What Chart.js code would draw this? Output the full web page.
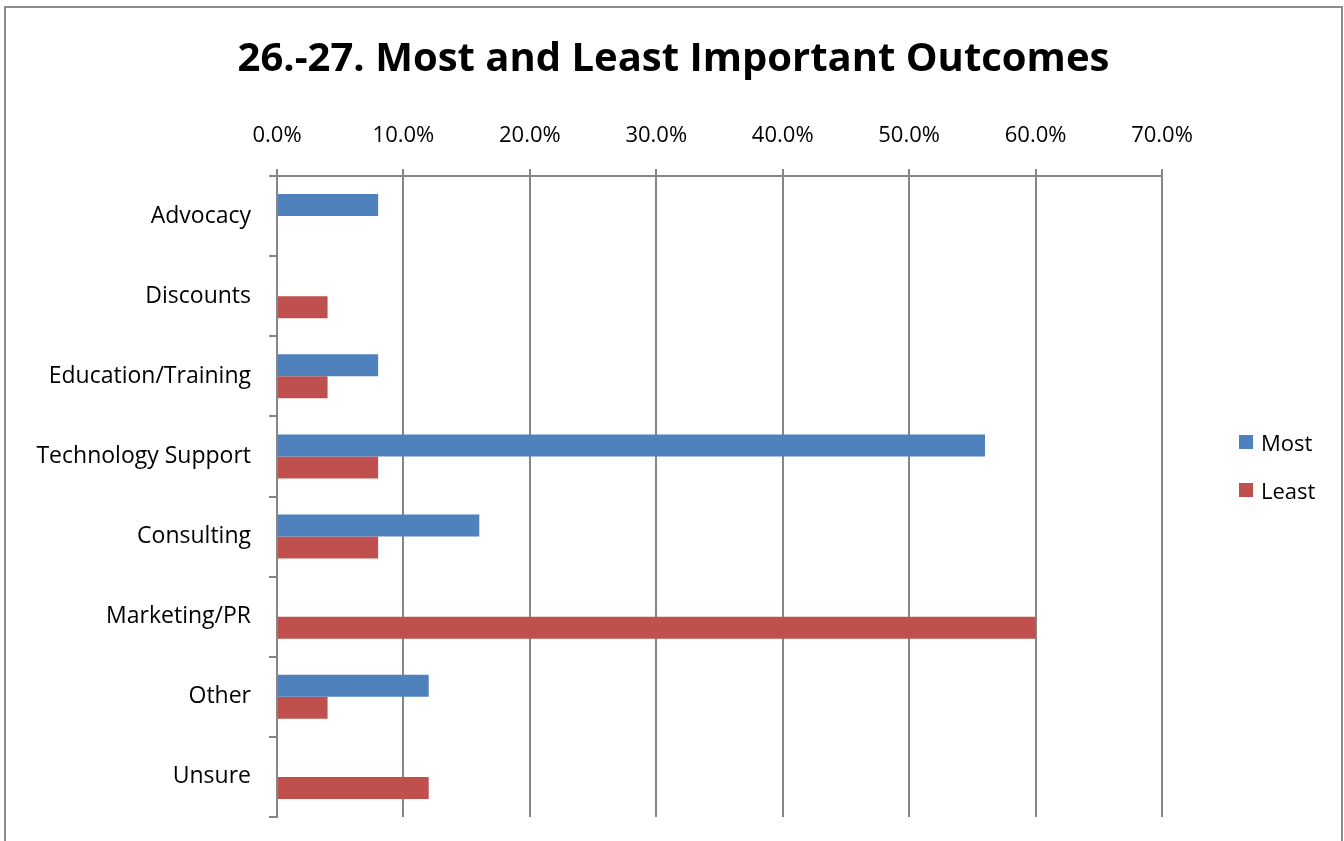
<!DOCTYPE html>
<html>
<head>
<meta charset="utf-8">
<script src="https://cdn.jsdelivr.net/npm/chart.js@4"></script>
<style>
    body { margin: 0; background: #fff; overflow: hidden; }
    #frame {
        position: absolute; left: 4px; top: 6px;
        width: 1335px; height: 860px;
        border: 2px solid #8c8c8c; background: #fff;
    }
    #chartBox { position: absolute; left: 0; top: 0; width: 1335px; height: 860px; }
    #legend { position: absolute; left: 1239px; top: 428px; font: 22px "Open Sans", "Noto Sans", sans-serif; color: #000; }
    .legend-item { display: flex; align-items: center; height: 28px; margin-bottom: 20px; }
    .legend-box { width: 14px; height: 14px; margin-right: 8px; }
</style>
</head>
<body>
<div id="frame"><div id="chartBox"><canvas id="outcomesChart"></canvas></div></div>
<div id="legend"></div>
<script>
const categories = ['Advocacy', 'Discounts', 'Education/Training', 'Technology Support',
    'Consulting', 'Marketing/PR', 'Other', 'Unsure'];
const mostValues = [8, 0, 8, 56, 16, 0, 12, 0];
const leastValues = [0, 4, 4, 8, 8, 60, 4, 12];
const xTicks = [0, 10, 20, 30, 40, 50, 60, 70];

const gray = '#868686';
const fontFamily = '"Open Sans", "Noto Sans", sans-serif';

function buildLegend(chart) {
    const box = document.getElementById('legend');
    box.innerHTML = '';
    chart.data.datasets.forEach(function (ds) {
        const item = document.createElement('div');
        item.className = 'legend-item';
        const sw = document.createElement('span');
        sw.className = 'legend-box';
        sw.style.background = ds.backgroundColor;
        const txt = document.createElement('span');
        txt.textContent = ds.label;
        item.appendChild(sw);
        item.appendChild(txt);
        box.appendChild(item);
    });
}

document.addEventListener("DOMContentLoaded", function () {
    const ctx = document.getElementById('outcomesChart').getContext('2d');
    const chart = new Chart(ctx, {
        type: 'bar',
        data: {
            labels: categories,
            datasets: [{
                label: 'Most',
                data: mostValues,
                backgroundColor: '#4F81BD',
                categoryPercentage: 0.55,
                barPercentage: 1
            }, {
                label: 'Least',
                data: leastValues,
                backgroundColor: '#C0504D',
                categoryPercentage: 0.55,
                barPercentage: 1
            }]
        },
        options: {
            indexAxis: 'y',
            responsive: true,
            maintainAspectRatio: false,
            animation: false,
            layout: { padding: { left: 0, right: 0, top: 0, bottom: 51 } },
            plugins: {
                title: {
                    display: true,
                    text: '26.-27. Most and Least Important Outcomes',
                    color: '#000',
                    font: { family: fontFamily, size: 40, weight: 'bold', lineHeight: 1.2 },
                    padding: { top: 28, bottom: 10 }
                },
                legend: { display: false },
                tooltip: { enabled: false }
            },
            scales: {
                x: {
                    position: 'top',
                    min: 0,
                    max: 70,
                    afterBuildTicks: function (axis) {
                        axis.ticks = xTicks.map(v => ({ value: v }));
                    },
                    afterFit: function (axis) { axis.height = 82; },
                    grid: { color: gray, lineWidth: 2, tickLength: 7 },
                    border: { color: gray, width: 2 },
                    ticks: {
                        color: '#000',
                        padding: 20,
                        maxRotation: 0,
                        font: { family: fontFamily, size: 22 },
                        callback: v => v.toFixed(1) + '%'
                    }
                },
                y: {
                    afterFit: function (axis) { axis.width = 271; },
                    grid: { offset: true, drawOnChartArea: false, color: gray, lineWidth: 2, tickLength: 8 },
                    border: { color: gray, width: 2 },
                    ticks: {
                        color: '#000',
                        padding: 18,
                        font: { family: fontFamily, size: 23 }
                    }
                },
                // empty right-hand space where the legend sits
                legendSpace: {
                    type: 'linear',
                    position: 'right',
                    afterFit: function (axis) { axis.width = 179; },
                    grid: { display: false },
                    border: { display: false },
                    ticks: { display: false }
                }
            }
        }
    });
    buildLegend(chart);
});
</script>
</body>
</html>
